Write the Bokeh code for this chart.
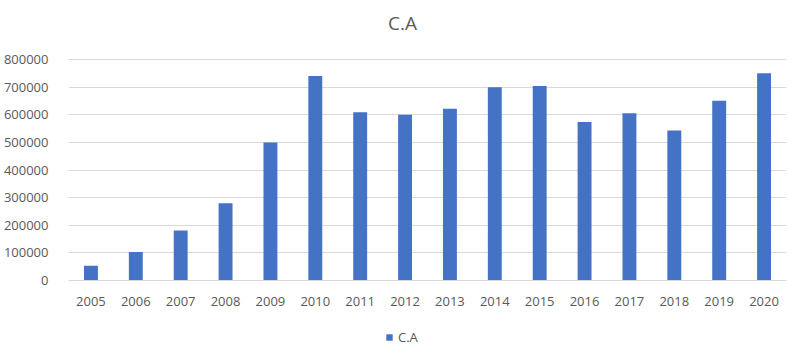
from bokeh.plotting import figure
from bokeh.models import (Range1d, FactorRange, FixedTicker, BasicTickFormatter, Legend,
                          LegendItem, ColumnDataSource, Label)
from bokeh.embed import file_html
from bokeh.resources import INLINE

years = ["2005", "2006", "2007", "2008", "2009", "2010", "2011", "2012",
         "2013", "2014", "2015", "2016", "2017", "2018", "2019", "2020"]
ca_values = [53000, 103000, 181000, 280000, 500000, 740000, 609000, 600000,
             622000, 700000, 704000, 574000, 605000, 543000, 651000, 750000]
y_ticks = [0, 100000, 200000, 300000, 400000, 500000, 600000, 700000, 800000]
series_name = "C.A"
title_text = "C.A"

FONT = "Open Sans"
GREY = "#595959"

W, H = 802, 354
LEFT, RIGHT = 67, 16
TOP_PX, ZERO_PX = 59, 280          # pixel rows of 800000 and 0
y_max = y_ticks[-1]
per_px = y_max / (ZERO_PX - TOP_PX)
y_start = -(H - ZERO_PX) * per_px
y_end = y_max + TOP_PX * per_px

src = ColumnDataSource(dict(x=years, top=ca_values))

p = figure(width=W, height=H, output_backend="svg", toolbar_location=None,
           x_range=FactorRange(factors=years, range_padding=0),
           y_range=Range1d(y_start, y_end),
           min_border_left=LEFT, min_border_right=RIGHT, min_border_top=0, min_border_bottom=0)
p.outline_line_color = None
p.background_fill_color = "white"
p.border_fill_color = "white"

r = p.vbar(x="x", top="top", width=0.31, source=src, fill_color="#4472c4", line_color=None)

p.yaxis.ticker = FixedTicker(ticks=y_ticks)
p.yaxis.formatter = BasicTickFormatter(use_scientific=False)
p.yaxis.axis_line_color = None
p.yaxis.major_tick_line_color = None
p.yaxis.minor_tick_line_color = None
p.yaxis.major_label_standoff = 14
p.yaxis.major_label_text_font = FONT
p.yaxis.major_label_text_font_size = "13px"
p.yaxis.major_label_text_color = GREY

p.xaxis.fixed_location = 0
p.xaxis.axis_line_color = "#d9d9d9"
p.xaxis.major_tick_line_color = None
p.xaxis.minor_tick_line_color = None
p.xaxis.major_label_standoff = 10
p.xaxis.major_label_text_font = FONT
p.xaxis.major_label_text_font_size = "13px"
p.xaxis.major_label_text_color = GREY

p.xgrid.grid_line_color = None
p.ygrid.grid_line_color = "#d9d9d9"
p.ygrid.ticker = FixedTicker(ticks=y_ticks)

title = Label(x=W / 2 - LEFT, y=H - 22, x_units="screen", y_units="screen", text=title_text,
              text_align="center", text_baseline="middle", text_font=FONT,
              text_font_size="19px", text_color=GREY)
p.add_layout(title)

legend = Legend(items=[LegendItem(label=series_name, renderers=[r])],
                orientation="horizontal", location=(384 - LEFT, 8),
                glyph_width=8, glyph_height=8, label_standoff=5,
                label_text_font=FONT, label_text_font_size="13px", label_text_color=GREY,
                padding=3, margin=0, border_line_color=None, background_fill_alpha=0)
p.add_layout(legend, "center")

open("out.html", "w").write(file_html(p, INLINE))
